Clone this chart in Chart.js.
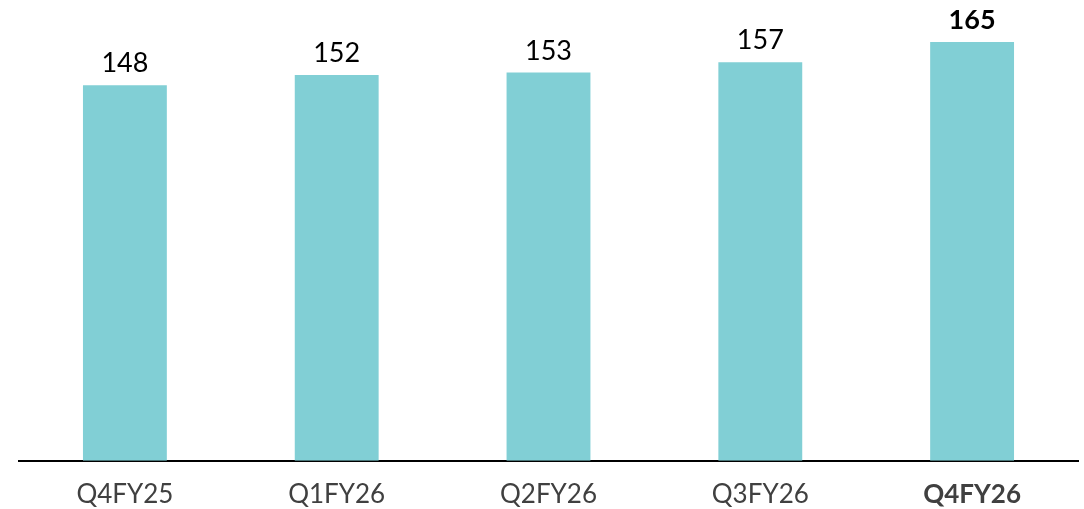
<!DOCTYPE html>
<html><head><meta charset="utf-8">
<script src="https://cdn.jsdelivr.net/npm/chart.js@4/dist/chart.umd.min.js"></script>
<style>html,body{margin:0;padding:0;background:#fff;}#wrap{width:1084px;height:509px;}</style>
</head><body><div id="wrap"><canvas id="c" width="1084" height="509"></canvas></div>
<script>
const categories = ["Q4FY25", "Q1FY26", "Q2FY26", "Q3FY26", "Q4FY26"];
const values = [148, 152, 153, 157, 165];
const boldIndex = 4;

const labelPlugin = {
  id: 'valLabels',
  afterDatasetsDraw(chart) {
    const ctx = chart.ctx;
    const meta = chart.getDatasetMeta(0);
    ctx.save();
    ctx.textAlign = 'center';
    ctx.textBaseline = 'alphabetic';
    meta.data.forEach((bar, i) => {
      ctx.font = (i === boldIndex ? 'bold ' : '') + '27px Lato';
      ctx.fillStyle = '#000';
      ctx.fillText(String(values[i]), bar.x, bar.y - 13);
    });
    ctx.restore();
  }
};

new Chart(document.getElementById('c'), {
  type: 'bar',
  data: {
    labels: categories,
    datasets: [{ data: values, backgroundColor: '#81CFD5', borderWidth: 0,
      barPercentage: 0.396, categoryPercentage: 1 }]
  },
  options: {
    responsive: false, animation: false, devicePixelRatio: 1,
    layout: { padding: { left: 19, right: 6, top: 4, bottom: -19 } },
    plugins: { legend: { display: false }, tooltip: { enabled: false } },
    scales: {
      x: {
        grid: { display: false, drawTicks: false },
        border: { display: true, color: '#000', width: 2 },
        ticks: {
          padding: 18, color: '#404040',
          font: (c) => ({ family: 'Lato', size: 26, weight: c.index === boldIndex ? 'bold' : 'normal' })
        }
      },
      y: { display: false, min: 0, max: 180 }
    }
  },
  plugins: [labelPlugin]
});
</script></body></html>
